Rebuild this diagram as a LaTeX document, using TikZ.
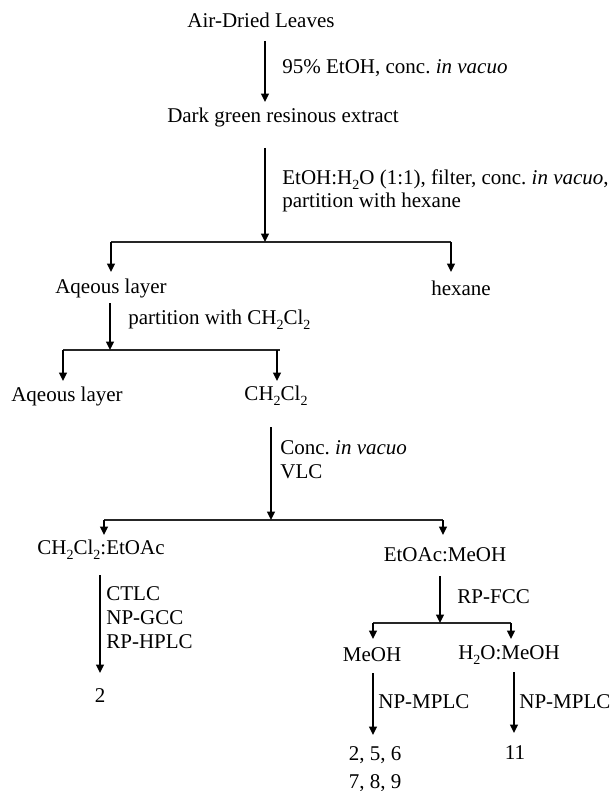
\documentclass[tikz,border=0pt]{standalone}
\usepackage{fontspec}
\setmainfont{Liberation Serif}
\usetikzlibrary{arrows.meta}
\newcommand{\sbs}[1]{\raisebox{-0.5ex}{\fontsize{7}{7}\selectfont #1}}
\newcommand{\dcm}{CH\sbs{2}Cl\sbs{2}}
\begin{document}
\begin{tikzpicture}[x=0.5pt, y=-0.5pt,
  every node/.style={font=\fontsize{10.5}{12}\selectfont, inner sep=0pt},
  arr/.style={line width=1pt, -{Triangle[length=4.2pt,width=3.8pt]}},
  bar/.style={line width=0.7pt, draw=black!85},
  lbl/.style={anchor=west, align=left}]
  \useasboundingbox (0,0) rectangle (613,791);
  % fractions
  \node (leaves) at (261,20) {Air-Dried Leaves};
  \node (extract) at (283,117) {Dark green resinous extract};
  \node (aqA) at (111,288) {Aqeous layer};
  \node (hex) at (461,288) {hexane};
  \node (aqB) at (67,396) {Aqeous layer};
  \node (dcmF) at (276,396) {\dcm};
  \node (dcmea) at (101,550) {\dcm:EtOAc};
  \node (eam) at (445,555) {EtOAc:MeOH};
  \node (cpdL) at (100,696) {2};
  \node (meoh) at (372,655) {MeOH};
  \node (wm) at (509,655) {H\sbs{2}O:MeOH};
  \node[align=center, font=\fontsize{10.5}{14}\selectfont] (cpdM) at (375,769) {2, 5, 6\\7, 8, 9};
  \node (cpdR) at (515,753) {11};
  % steps
  \node[lbl] (s1) at (282,68) {95\% EtOH, conc.\ \textit{in vacuo}};
  \node[lbl, font=\fontsize{10.5}{11.5}\selectfont] (s2) at (282,191) {EtOH:H\sbs{2}O (1:1), filter, conc.\ \textit{in vacuo},\\partition with hexane};
  \node[lbl] (s3) at (128,320) {partition with \dcm};
  \node[lbl] (s4) at (280,460) {Conc.\ \textit{in vacuo}\\VLC};
  \node[lbl] (s5) at (106,618) {CTLC\\NP-GCC\\RP-HPLC};
  \node[lbl] (s6) at (457,597) {RP-FCC};
  \node[lbl] (s7) at (378,702) {NP-MPLC};
  \node[lbl] (s8) at (519,702) {NP-MPLC};
  % junctions
  \coordinate (a1) at (265,41);
  \coordinate (a1e) at (265,102);
  \coordinate (a2) at (265,148);
  \coordinate (j1) at (265,242);
  \coordinate (j1l) at (111,242);
  \coordinate (j1r) at (451,242);
  \coordinate (a3) at (110,303);
  \coordinate (j2) at (110,350);
  \coordinate (j2l) at (63,350);
  \coordinate (j2r) at (280,350);
  \coordinate (a4) at (271,427);
  \coordinate (j3) at (271,520);
  \coordinate (j3l) at (104,520);
  \coordinate (j3r) at (443,520);
  \coordinate (a5) at (100,575);
  \coordinate (a5e) at (100,673);
  \coordinate (a6) at (440,576);
  \coordinate (j4) at (440,623);
  \coordinate (j4l) at (373,623);
  \coordinate (j4r) at (511,623);
  \coordinate (a7) at (373,673);
  \coordinate (a7e) at (373,735);
  \coordinate (a8) at (514,672);
  \coordinate (a8e) at (514,733);
  \draw[bar] (j1l)--(j1r) (j2l)--(j2r) (j3l)--(j3r) (j4l)--(j4r);
  \draw[arr] (a1)--(a1e);
  \draw[arr] (a2)--(j1);
  \draw[arr] (j1l)--(111,272);
  \draw[arr] (j1r)--(451,272);
  \draw[arr] (a3)--(j2);
  \draw[arr] (j2l)--(63,381);
  \draw[arr] (277,350)--(277,381);
  \draw[arr] (a4)--(j3);
  \draw[arr] (j3l)--(104,535);
  \draw[arr] (j3r)--(443,535);
  \draw[arr] (a5)--(a5e);
  \draw[arr] (a6)--(j4);
  \draw[arr] (j4l)--(373,639);
  \draw[arr] (j4r)--(511,639);
  \draw[arr] (a7)--(a7e);
  \draw[arr] (a8)--(a8e);
\end{tikzpicture}
\end{document}
